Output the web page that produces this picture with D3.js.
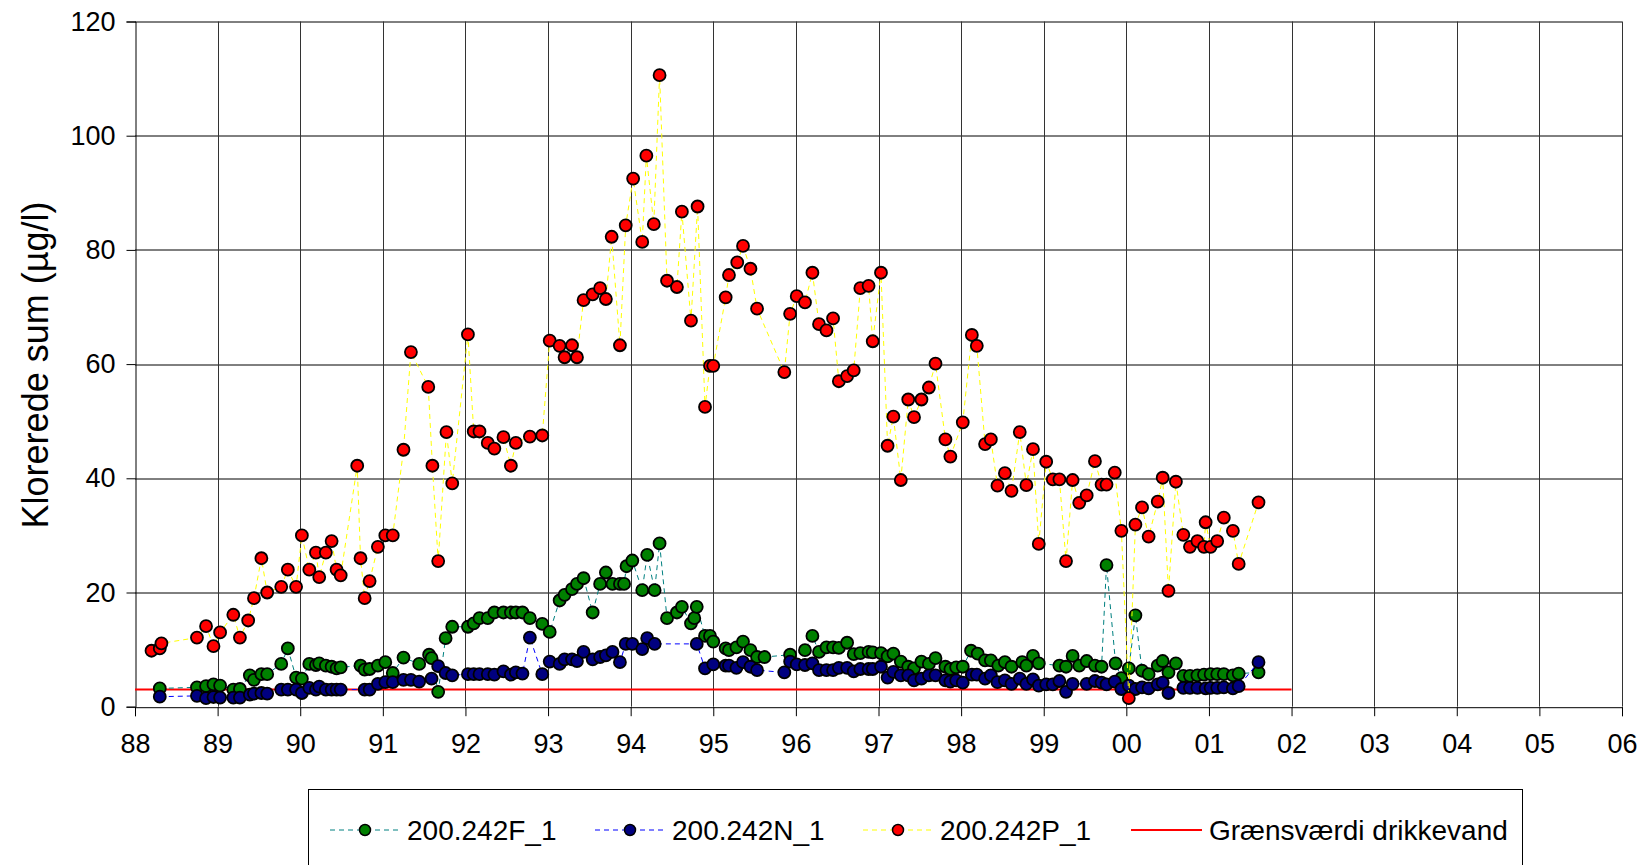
<!DOCTYPE html>
<html>
<head>
<meta charset="utf-8">
<script src="https://cdn.jsdelivr.net/npm/d3@7"></script>
<style>
  body { margin: 0; background: #fff; }
  svg { display: block; font-family: "Liberation Sans", Arial, sans-serif; }
</style>
</head>
<body>
<svg id="chart" width="1646" height="865"></svg>
<script>
// sampling dates (decimal year) and values, µg/l
var seriesF = [[1988.30,3.2],[1988.75,3.4],[1988.86,3.6],[1988.95,3.9],[1989.03,3.7],[1989.19,3.0],[1989.27,3.1],[1989.39,5.5],[1989.44,4.7],[1989.53,5.7],[1989.60,5.7],[1989.77,7.5],[1989.85,10.2],[1989.95,5.1],[1990.02,4.9],[1990.11,7.5],[1990.19,7.3],[1990.23,7.6],[1990.31,7.2],[1990.38,7.0],[1990.44,6.7],[1990.49,6.9],[1990.73,7.2],[1990.78,6.5],[1990.84,6.6],[1990.94,7.2],[1991.03,7.8],[1991.12,5.9],[1991.25,8.6],[1991.44,7.5],[1991.56,9.1],[1991.59,8.5],[1991.67,2.6],[1991.76,12.0],[1991.84,14.0],[1992.03,14.0],[1992.10,14.6],[1992.17,15.5],[1992.27,15.5],[1992.35,16.5],[1992.46,16.5],[1992.55,16.5],[1992.61,16.5],[1992.69,16.5],[1992.78,15.5],[1992.93,14.5],[1993.02,13.1],[1993.14,18.6],[1993.20,19.6],[1993.29,20.6],[1993.35,21.5],[1993.43,22.5],[1993.54,16.5],[1993.63,21.5],[1993.70,23.5],[1993.78,21.5],[1993.87,21.5],[1993.92,21.5],[1993.95,24.6],[1994.02,25.6],[1994.14,20.4],[1994.20,26.6],[1994.29,20.4],[1994.35,28.6],[1994.44,15.5],[1994.56,16.5],[1994.62,17.5],[1994.73,14.6],[1994.77,15.5],[1994.80,17.5],[1994.90,12.4],[1994.96,12.4],[1995.00,11.4],[1995.15,10.2],[1995.19,9.9],[1995.28,10.4],[1995.36,11.4],[1995.45,9.9],[1995.53,8.7],[1995.62,8.7],[1995.93,9.1],[1996.11,9.9],[1996.20,12.4],[1996.28,9.6],[1996.37,10.4],[1996.45,10.4],[1996.52,10.3],[1996.62,11.2],[1996.70,9.2],[1996.78,9.4],[1996.88,9.6],[1996.93,9.5],[1997.03,9.4],[1997.11,8.8],[1997.18,9.3],[1997.27,7.9],[1997.36,7.0],[1997.43,6.7],[1997.52,7.9],[1997.61,7.5],[1997.69,8.5],[1997.81,7.0],[1997.87,6.6],[1997.94,6.9],[1998.02,7.0],[1998.12,9.8],[1998.20,9.3],[1998.29,8.1],[1998.36,8.1],[1998.45,7.2],[1998.53,7.8],[1998.61,7.0],[1998.74,7.8],[1998.79,7.2],[1998.87,8.9],[1998.94,7.6],[1999.19,7.2],[1999.27,7.0],[1999.35,8.9],[1999.43,7.2],[1999.52,8.0],[1999.62,7.2],[1999.70,7.0],[1999.76,24.8],[1999.87,7.6],[1999.94,5.0],[2000.03,6.7],[2000.11,16.0],[2000.19,6.3],[2000.27,5.7],[2000.38,7.2],[2000.44,8.0],[2000.51,6.0],[2000.60,7.6],[2000.69,5.4],[2000.77,5.4],[2000.86,5.5],[2000.94,5.6],[2001.02,5.7],[2001.10,5.7],[2001.18,5.7],[2001.29,5.5],[2001.36,5.8],[2001.60,6.0]];

var seriesN = [[1988.30,1.75],[1988.75,1.9],[1988.86,1.5],[1988.95,1.7],[1989.03,1.6],[1989.19,1.6],[1989.27,1.6],[1989.39,2.1],[1989.44,2.3],[1989.53,2.4],[1989.60,2.3],[1989.77,3.0],[1989.85,3.0],[1989.95,3.0],[1990.02,2.4],[1990.11,3.3],[1990.19,3.0],[1990.23,3.5],[1990.31,3.0],[1990.38,3.0],[1990.44,3.0],[1990.49,3.0],[1990.78,3.0],[1990.84,3.0],[1990.94,4.0],[1991.03,4.3],[1991.12,4.3],[1991.25,4.7],[1991.34,4.7],[1991.44,4.4],[1991.59,4.9],[1991.67,7.1],[1991.76,5.9],[1991.84,5.5],[1992.03,5.7],[1992.10,5.7],[1992.17,5.7],[1992.27,5.7],[1992.35,5.6],[1992.46,6.2],[1992.55,5.6],[1992.61,6.0],[1992.69,5.8],[1992.78,12.1],[1992.93,5.7],[1993.02,7.9],[1993.14,7.5],[1993.20,8.3],[1993.29,8.3],[1993.35,8.0],[1993.43,9.6],[1993.54,8.3],[1993.63,8.7],[1993.70,9.0],[1993.78,9.6],[1993.87,7.8],[1993.94,11.0],[1994.02,11.0],[1994.14,10.1],[1994.20,12.0],[1994.29,11.0],[1994.80,11.0],[1994.90,6.7],[1995.00,7.4],[1995.15,7.2],[1995.19,7.2],[1995.28,6.8],[1995.36,7.8],[1995.45,7.0],[1995.53,6.4],[1995.86,6.0],[1995.93,7.9],[1996.01,7.4],[1996.11,7.3],[1996.20,7.6],[1996.28,6.4],[1996.37,6.4],[1996.45,6.4],[1996.52,6.8],[1996.62,6.8],[1996.70,6.2],[1996.78,6.6],[1996.88,6.6],[1996.93,6.6],[1997.03,7.0],[1997.11,5.1],[1997.18,6.1],[1997.27,5.5],[1997.36,5.5],[1997.43,4.6],[1997.52,4.9],[1997.61,5.5],[1997.69,5.5],[1997.81,4.6],[1997.87,4.4],[1997.94,4.6],[1998.02,4.2],[1998.13,5.6],[1998.19,5.6],[1998.29,4.9],[1998.36,5.5],[1998.44,4.3],[1998.53,4.6],[1998.61,4.0],[1998.71,4.9],[1998.79,4.0],[1998.87,4.8],[1998.94,3.7],[1999.03,3.9],[1999.11,3.9],[1999.19,4.5],[1999.27,2.6],[1999.35,4.0],[1999.52,4.0],[1999.62,4.5],[1999.70,4.2],[1999.76,3.9],[1999.86,4.4],[1999.94,3.1],[2000.03,3.7],[2000.11,3.1],[2000.19,3.4],[2000.27,3.2],[2000.38,3.9],[2000.44,4.2],[2000.51,2.4],[2000.69,3.3],[2000.77,3.3],[2000.86,3.3],[2000.96,3.2],[2001.02,3.3],[2001.10,3.3],[2001.18,3.4],[2001.29,3.2],[2001.36,3.6],[2001.60,7.8]];

var seriesP = [[1988.20,9.8],[1988.30,10.2],[1988.32,11.1],[1988.75,12.1],[1988.86,14.1],[1988.95,10.6],[1989.03,13.0],[1989.19,16.1],[1989.27,12.1],[1989.37,15.1],[1989.44,19.0],[1989.53,26.0],[1989.60,20.0],[1989.77,21.0],[1989.85,24.0],[1989.95,21.0],[1990.02,30.0],[1990.11,24.0],[1990.19,27.0],[1990.23,22.7],[1990.31,27.0],[1990.38,29.0],[1990.44,24.0],[1990.49,23.0],[1990.69,42.2],[1990.73,26.0],[1990.78,19.0],[1990.84,22.0],[1990.94,28.0],[1991.03,30.0],[1991.12,30.0],[1991.25,45.0],[1991.34,62.1],[1991.55,56.0],[1991.60,42.2],[1991.67,25.5],[1991.77,48.1],[1991.84,39.1],[1992.03,65.2],[1992.10,48.2],[1992.17,48.2],[1992.27,46.2],[1992.35,45.2],[1992.46,47.2],[1992.55,42.2],[1992.61,46.2],[1992.78,47.3],[1992.93,47.5],[1993.02,64.1],[1993.14,63.2],[1993.20,61.2],[1993.29,63.3],[1993.35,61.2],[1993.43,71.2],[1993.54,72.2],[1993.63,73.3],[1993.70,71.4],[1993.77,82.3],[1993.87,63.3],[1993.94,84.3],[1994.03,92.5],[1994.14,81.4],[1994.19,96.5],[1994.28,84.5],[1994.35,110.6],[1994.44,74.6],[1994.56,73.5],[1994.62,86.7],[1994.73,67.6],[1994.81,87.6],[1994.90,52.5],[1994.96,59.7],[1995.00,59.7],[1995.15,71.7],[1995.19,75.6],[1995.29,77.8],[1995.36,80.7],[1995.45,76.7],[1995.53,69.7],[1995.86,58.6],[1995.93,68.8],[1996.01,71.9],[1996.11,70.8],[1996.20,76.0],[1996.28,67.0],[1996.37,65.9],[1996.45,68.0],[1996.52,57.0],[1996.62,57.9],[1996.70,58.9],[1996.78,73.3],[1996.88,73.7],[1996.93,64.0],[1997.03,76.0],[1997.11,45.7],[1997.18,50.8],[1997.27,39.7],[1997.36,53.8],[1997.43,50.7],[1997.52,53.8],[1997.61,55.9],[1997.69,60.1],[1997.81,46.8],[1997.87,43.8],[1998.02,49.8],[1998.13,65.1],[1998.19,63.2],[1998.29,46.0],[1998.36,46.8],[1998.44,38.7],[1998.53,40.9],[1998.61,37.8],[1998.71,48.1],[1998.79,38.8],[1998.87,45.1],[1998.94,28.5],[1999.03,42.9],[1999.11,39.8],[1999.19,39.8],[1999.27,25.5],[1999.35,39.7],[1999.43,35.7],[1999.52,37.0],[1999.62,43.0],[1999.70,38.9],[1999.76,38.9],[1999.86,41.0],[1999.94,30.8],[2000.03,1.5],[2000.11,31.9],[2000.19,34.9],[2000.27,29.8],[2000.38,35.9],[2000.44,40.1],[2000.51,20.3],[2000.60,39.4],[2000.69,30.1],[2000.77,28.0],[2000.86,29.0],[2000.94,28.0],[2000.96,32.3],[2001.02,28.0],[2001.10,29.0],[2001.18,33.1],[2001.29,30.8],[2001.36,25.0],[2001.60,35.8]];

var seriesNames = ["200.242F_1", "200.242N_1", "200.242P_1"];
var limitName = "Grænsværdi drikkevand";
var limitValue = 3;
var limitYears = [1988, 2002];

var xTickYears = d3.range(1988, 2007);
var xTickLabels = ["88","89","90","91","92","93","94","95","96","97","98","99","00","01","02","03","04","05","06"];
var yTicks = [0, 20, 40, 60, 80, 100, 120];

var svg = d3.select("#chart"),
    margin = {top: 21.5, right: 24, bottom: 158.3, left: 135},
    width = svg.attr("width") - margin.left - margin.right,
    height = svg.attr("height") - margin.top - margin.bottom;

var g = svg.append("g")
    .attr("transform", "translate(" + margin.left + "," + margin.top + ")");

var xScale = d3.scaleLinear().domain([1988, 2006]).range([0, width]);
var yScale = d3.scaleLinear().domain([0, 120]).range([height, 0]);

// grid
g.append("g").selectAll("line")
    .data(yTicks.slice(1))
    .enter().append("line")
    .attr("x1", 0).attr("x2", width)
    .attr("y1", d => Math.round(yScale(d)) + 0.5)
    .attr("y2", d => Math.round(yScale(d)) + 0.5)
    .attr("stroke", "#000").attr("stroke-width", 1);

g.append("g").selectAll("line")
    .data(xTickYears.slice(1))
    .enter().append("line")
    .attr("y1", 0).attr("y2", height)
    .attr("x1", d => Math.round(xScale(d)) + 0.5)
    .attr("x2", d => Math.round(xScale(d)) + 0.5)
    .attr("stroke", "#333").attr("stroke-width", 1);

// axes
var yAxis = g.append("g")
    .attr("transform", "translate(0.5,0)")
    .call(d3.axisLeft(yScale).tickValues(yTicks).tickSize(9).tickPadding(11));
yAxis.selectAll("text").attr("font-size", 27).attr("fill", "#000").style("font-family", "inherit");

var xAxis = g.append("g")
    .attr("transform", "translate(0," + (height + 0.5) + ")")
    .call(d3.axisBottom(xScale).tickValues(xTickYears).tickSize(9).tickPadding(18)
        .tickFormat((d, i) => xTickLabels[i]));
xAxis.selectAll("text").attr("font-size", 27).attr("fill", "#000").style("font-family", "inherit");
svg.selectAll(".domain, .tick line").attr("stroke", "#000");

g.append("text")
    .attr("text-anchor", "middle")
    .attr("transform", "rotate(-90)")
    .attr("x", -(365 - margin.top))
    .attr("y", -(135 - 48))
    .attr("font-size", 36)
    .text("Klorerede sum (µg/l)");

// limit line
g.append("line")
    .attr("x1", xScale(limitYears[0])).attr("x2", xScale(limitYears[1]))
    .attr("y1", yScale(limitValue)).attr("y2", yScale(limitValue))
    .attr("stroke", "#ff0000").attr("stroke-width", 2);

var styles = [
    {line: "#008080", fill: "#008000"},
    {line: "#0000ff", fill: "#000080"},
    {line: "#ffff00", fill: "#ff0000"}
];
var allSeries = [seriesF, seriesN, seriesP];

var line = d3.line().x(d => xScale(d[0])).y(d => yScale(d[1]));

allSeries.forEach(function (data, i) {
    g.append("path")
        .datum(data)
        .attr("d", line)
        .attr("fill", "none")
        .attr("stroke", styles[i].line)
        .attr("stroke-width", 1)
        .attr("stroke-dasharray", "5,4");

    g.append("g").selectAll("circle")
        .data(data)
        .enter().append("circle")
        .attr("cx", d => xScale(d[0]))
        .attr("cy", d => yScale(d[1]))
        .attr("r", 6)
        .attr("fill", styles[i].fill)
        .attr("stroke", "#000")
        .attr("stroke-width", 1.8);
});

// legend
var legend = svg.append("g");
legend.append("rect")
    .attr("x", 308.5).attr("y", 789.5)
    .attr("width", 1214).attr("height", 100)
    .attr("fill", "#fff").attr("stroke", "#000").attr("stroke-width", 1);

var legendX = [330, 595, 863];
var legendY = 830;
seriesNames.forEach(function (name, i) {
    var lg = legend.append("g").attr("transform", "translate(" + legendX[i] + "," + legendY + ")");
    lg.append("line")
        .attr("x1", 0).attr("x2", 70)
        .attr("stroke", styles[i].line).attr("stroke-width", 1)
        .attr("stroke-dasharray", "5,4");
    lg.append("circle")
        .attr("cx", 35).attr("r", 5.5)
        .attr("fill", styles[i].fill).attr("stroke", "#000").attr("stroke-width", 1.5);
    lg.append("text")
        .attr("x", 77).attr("y", 10)
        .attr("font-size", 28)
        .text(name);
});

var lim = legend.append("g").attr("transform", "translate(1131," + legendY + ")");
lim.append("line")
    .attr("x1", 0).attr("x2", 71)
    .attr("stroke", "#ff0000").attr("stroke-width", 2);
lim.append("text")
    .attr("x", 78).attr("y", 10)
    .attr("font-size", 28)
    .text(limitName);
</script>
</body>
</html>
